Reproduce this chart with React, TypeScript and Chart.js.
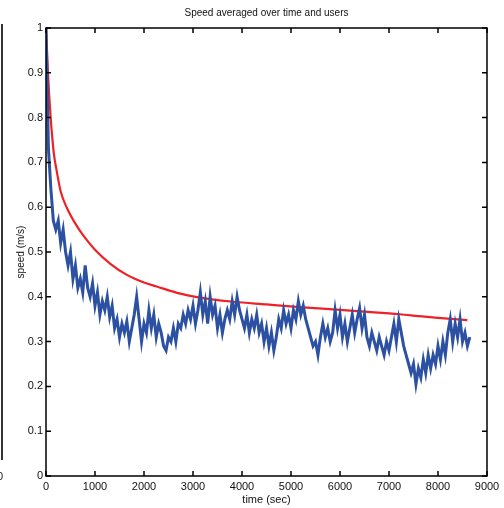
import React, { useEffect, useRef } from "react";
import { Chart, registerables } from "chart.js";

Chart.register(...registerables);

// ---- text ----
const TITLE = "Speed averaged over time and users";
const X_LABEL = "time (sec)";
const Y_LABEL = "speed (m/s)";

// ---- axes ----
const X_TICKS = [0, 1000, 2000, 3000, 4000, 5000, 6000, 7000, 8000, 9000];
const Y_TICKS = [0, 0.1, 0.2, 0.3, 0.4, 0.5, 0.6, 0.7, 0.8, 0.9, 1];

// ---- instantaneous speed, sampled every SAMPLE_STEP seconds ----
const SAMPLE_STEP = 50;
const instantSpeed = [
  1.0, 0.73, 0.64, 0.57, 0.55, 0.57, 0.52, 0.55, 0.5, 0.47,
  0.5, 0.44, 0.47, 0.42, 0.44, 0.41, 0.47, 0.42, 0.4, 0.43,
  0.38, 0.41, 0.36, 0.39, 0.37, 0.4, 0.355, 0.38, 0.33, 0.35,
  0.31, 0.34, 0.32, 0.345, 0.3, 0.33, 0.36, 0.4, 0.35, 0.3,
  0.34, 0.32, 0.37, 0.33, 0.36, 0.31, 0.34, 0.32, 0.29, 0.28,
  0.31, 0.3, 0.33, 0.3, 0.34, 0.33, 0.36, 0.34, 0.37, 0.35,
  0.38, 0.34, 0.37, 0.41, 0.36, 0.39, 0.34, 0.4, 0.36, 0.38,
  0.33, 0.36, 0.32, 0.35, 0.37, 0.35, 0.39, 0.36, 0.4, 0.37,
  0.35, 0.33, 0.36, 0.32, 0.35, 0.33, 0.36, 0.32, 0.34, 0.3,
  0.33, 0.29, 0.32, 0.28, 0.31, 0.35, 0.33, 0.37, 0.34, 0.36,
  0.33, 0.37, 0.35, 0.39, 0.36, 0.38, 0.35, 0.33, 0.31, 0.29,
  0.3, 0.27, 0.31, 0.34, 0.31, 0.33, 0.3, 0.32, 0.37, 0.33,
  0.36, 0.31, 0.34, 0.3, 0.33, 0.36, 0.32, 0.35, 0.375, 0.33,
  0.36, 0.31, 0.29, 0.32, 0.3, 0.28, 0.31, 0.29, 0.27, 0.3,
  0.28, 0.31, 0.34, 0.3, 0.35, 0.32, 0.29, 0.27, 0.25, 0.23,
  0.25, 0.205, 0.24, 0.22, 0.26, 0.23, 0.27, 0.24, 0.27, 0.25,
  0.29, 0.26, 0.3, 0.27, 0.32, 0.35, 0.3, 0.34, 0.31, 0.35,
  0.3, 0.32, 0.29, 0.31,
];

// ---- running average of speed ----
const avgTimes = [
  0, 20, 40, 65, 95, 160, 220, 300, 420, 640, 760, 1000, 1320, 1650, 2000,
  2260, 2740, 3000, 3280, 3820, 4500, 5180, 6000, 6500, 7220, 7600, 8000, 8600,
];
const avgSpeed = [
  1.0, 0.95, 0.9, 0.85, 0.8, 0.72, 0.68, 0.635, 0.6, 0.556, 0.537, 0.505, 0.473, 0.449, 0.432,
  0.423, 0.407, 0.401, 0.396, 0.389, 0.383, 0.377, 0.371, 0.367, 0.361, 0.357, 0.353, 0.348,
];

const FONT = "'Liberation Sans Narrow', 'Liberation Sans', Arial, Helvetica, sans-serif";

// Boxed frame with inward ticks on all four sides, plus title and axis labels.
const framePlugin = {
  id: "frameAndLabels",
  afterDraw(chart: any) {
    const { ctx, chartArea: a, scales } = chart;
    const tick = 5;
    ctx.save();
    ctx.strokeStyle = "#000";
    ctx.lineWidth = 1.5;
    ctx.strokeRect(a.left, a.top, a.right - a.left, a.bottom - a.top);
    ctx.beginPath();
    X_TICKS.forEach((v) => {
      const px = scales.x.getPixelForValue(v);
      ctx.moveTo(px, a.bottom);
      ctx.lineTo(px, a.bottom - tick);
      ctx.moveTo(px, a.top);
      ctx.lineTo(px, a.top + tick);
    });
    Y_TICKS.forEach((v) => {
      const py = scales.y.getPixelForValue(v);
      ctx.moveTo(a.left, py);
      ctx.lineTo(a.left + tick, py);
      ctx.moveTo(a.right, py);
      ctx.lineTo(a.right - tick, py);
    });
    ctx.stroke();

    ctx.fillStyle = "#111";
    ctx.textAlign = "center";
    ctx.textBaseline = "middle";
    const cx = (a.left + a.right) / 2;
    ctx.font = `10px ${FONT}`;
    ctx.fillText(TITLE, cx, 13);
    ctx.font = `11px ${FONT}`;
    ctx.fillText(X_LABEL, cx, 500);
    ctx.translate(21, (a.top + a.bottom) / 2);
    ctx.rotate(-Math.PI / 2);
    ctx.font = `10px ${FONT}`;
    ctx.fillText(Y_LABEL, 0, 0);
    ctx.restore();
  },
};

export default function App() {
  const canvasRef = useRef<HTMLCanvasElement | null>(null);

  useEffect(() => {
    const canvas = canvasRef.current;
    if (!canvas) return;

    const instantPoints = instantSpeed.map((y, i) => ({ x: i * SAMPLE_STEP, y }));
    const avgPoints = avgTimes.map((x, i) => ({ x, y: avgSpeed[i] }));

    const chart = new Chart(canvas, {
      type: "line",
      data: {
        datasets: [
          {
            data: instantPoints,
            borderColor: "rgb(44,80,162)",
            borderWidth: 3,
            borderJoinStyle: "miter",
            pointRadius: 0,
            tension: 0,
          },
          {
            data: avgPoints,
            borderColor: "rgb(238,34,38)",
            borderWidth: 2.2,
            pointRadius: 0,
            cubicInterpolationMode: "monotone",
          },
        ],
      },
      plugins: [framePlugin],
      options: {
        responsive: false,
        animation: false,
        devicePixelRatio: 1,
        layout: { padding: { top: 28, right: 17, left: 0, bottom: 0 } },
        plugins: {
          legend: { display: false },
          title: { display: false },
          tooltip: { enabled: false },
        },
        scales: {
          x: {
            type: "linear",
            min: 0,
            max: 9000,
            afterFit: (s: any) => {
              s.height = 32;
            },
            grid: { drawOnChartArea: false, drawTicks: false },
            border: { display: false },
            ticks: {
              stepSize: 1000,
              autoSkip: false,
              maxRotation: 0,
              padding: 4,
              color: "#111",
              font: { family: FONT, size: 11 },
              callback: (v: any) => String(v),
            },
          },
          y: {
            type: "linear",
            min: 0,
            max: 1,
            afterFit: (s: any) => {
              s.width = 46;
            },
            grid: { drawOnChartArea: false, drawTicks: false },
            border: { display: false },
            ticks: {
              stepSize: 0.1,
              autoSkip: false,
              padding: 3,
              color: "#111",
              font: { family: FONT, size: 11 },
              callback: (v: any) => String(Number(Number(v).toFixed(1))),
            },
          },
        },
      },
    });

    return () => chart.destroy();
  }, []);

  return (
    <div style={{ position: "absolute", left: 0, top: 0, width: 504, height: 508, background: "#fff" }}>
      {/* edge of the neighbouring panel */}
      <div
        style={{
          position: "absolute",
          left: 1,
          top: 24,
          width: 0,
          height: 436,
          borderLeft: "2px solid #333",
        }}
      />
      <div
        style={{
          position: "absolute",
          left: -3,
          top: 470,
          font: `11px ${FONT}`,
          color: "#222",
        }}
      >
        0
      </div>
      <canvas ref={canvasRef} width={504} height={508} style={{ display: "block" }} />
    </div>
  );
}
